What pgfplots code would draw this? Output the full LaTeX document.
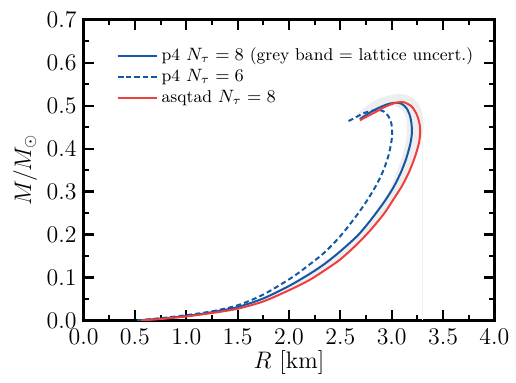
\documentclass[border=0pt]{standalone}
\usepackage{pgfplots}
\pgfplotsset{compat=1.18}
\definecolor{pblue}{RGB}{20,88,165}
\definecolor{pred}{RGB}{240,62,62}
\begin{document}
\begin{tikzpicture}
\begin{axis}[
  scale only axis,
  width=206.5pt, height=151pt,
  xmin=0, xmax=4, ymin=0, ymax=0.7,
  xtick={0,0.5,...,4}, ytick={0,0.1,...,0.7},
  minor x tick num=1, minor y tick num=1,
  tick align=inside,
  major tick length=5pt, minor tick length=2.5pt,
  axis line style={line width=1.4pt},
  every tick/.style={black, line width=1.1pt},
  tick label style={font=\fontsize{11.7}{13}\selectfont},
  xticklabel style={yshift=-1pt, /pgf/number format/.cd, fixed, fixed zerofill, precision=1},
  yticklabel style={/pgf/number format/.cd, fixed, fixed zerofill, precision=1},
  xlabel={$R$ [km]}, ylabel={$M/M_{\odot}$},
  label style={font=\fontsize{12}{14}\selectfont},
  xlabel style={yshift=4pt},
  ylabel style={yshift=-2pt},
  legend style={draw=none, fill=none, at={(0.065,0.935)}, anchor=north west,
    font=\fontsize{8.6}{10}\selectfont, row sep=-1pt},
  legend cell align=left,
  legend image post style={xscale=1.15},
]
% grey band (no legend entry)
\addplot[forget plot, fill=gray!13, draw=none, smooth, tension=0.4] coordinates {
(1.5,0.026)(1.75,0.044)(2.0,0.071)(2.2,0.095)(2.35,0.118)(2.5,0.143)(2.67,0.180)(2.80,0.213)(2.93,0.252)(3.02,0.285)(3.10,0.314)(3.18,0.35)(3.25,0.39)(3.29,0.42)(3.31,0.45)(3.30,0.48)(3.26,0.505)(3.18,0.522)(3.07,0.528)(2.96,0.523)(2.85,0.514)(2.76,0.50)(2.68,0.484)(2.66,0.470)(2.76,0.478)(2.86,0.490)(2.96,0.498)(3.04,0.498)(3.10,0.490)(3.14,0.472)(3.15,0.445)(3.14,0.42)(3.10,0.38)(3.04,0.34)(2.97,0.30)(2.88,0.265)(2.76,0.225)(2.62,0.188)(2.47,0.158)(2.33,0.134)(2.18,0.110)(2.0,0.083)(1.75,0.052)(1.5,0.031)
};
\addplot[forget plot, gray!10, line width=0.4pt] coordinates {(3.30,0)(3.30,0.42)};
% p4 Ntau=8
\addplot[pblue, line width=1pt, smooth, tension=0.45] coordinates {
(0.54,0.000)(0.75,0.004)(1.0,0.010)(1.25,0.019)(1.5,0.031)(1.75,0.051)(2.0,0.080)(2.2,0.108)(2.35,0.132)(2.5,0.161)(2.67,0.198)(2.80,0.235)(2.93,0.277)(3.02,0.311)(3.09,0.345)(3.14,0.376)(3.18,0.410)(3.196,0.435)(3.193,0.457)(3.177,0.477)(3.145,0.494)(3.10,0.504)(3.05,0.507)(2.98,0.505)(2.90,0.498)(2.80,0.486)(2.69,0.469)
};
\addlegendentry{p4 $N_\tau = 8$ (grey band = lattice uncert.)}
% p4 Ntau=6
\addplot[pblue, line width=1pt, dash pattern=on 2.6pt off 1.6pt, smooth, tension=0.45] coordinates {
(0.52,0.000)(0.75,0.005)(1.0,0.012)(1.25,0.021)(1.5,0.035)(1.75,0.060)(2.03,0.100)(2.2,0.130)(2.35,0.159)(2.51,0.199)(2.67,0.248)(2.77,0.283)(2.85,0.315)(2.92,0.350)(2.97,0.385)(2.998,0.418)(3.005,0.440)(2.995,0.460)(2.967,0.476)(2.92,0.487)(2.87,0.490)(2.80,0.488)(2.72,0.482)(2.65,0.473)(2.57,0.463)
};
\addlegendentry{p4 $N_\tau = 6$}
% asqtad Ntau=8
\addplot[pred, line width=1pt, smooth, tension=0.45] coordinates {
(0.56,0.000)(0.75,0.003)(1.0,0.009)(1.25,0.017)(1.5,0.027)(1.75,0.044)(2.0,0.070)(2.2,0.094)(2.35,0.117)(2.5,0.142)(2.67,0.179)(2.80,0.212)(2.93,0.250)(3.02,0.283)(3.10,0.313)(3.17,0.346)(3.225,0.380)(3.262,0.410)(3.276,0.433)(3.272,0.456)(3.245,0.479)(3.195,0.498)(3.12,0.508)(3.04,0.507)(2.94,0.498)(2.84,0.485)(2.76,0.475)(2.69,0.466)
};
\addlegendentry{asqtad $N_\tau = 8$}
\end{axis}
\path (current axis.south west) +(-42pt,-31pt) rectangle +(216pt,161pt);
\end{tikzpicture}
\end{document}
